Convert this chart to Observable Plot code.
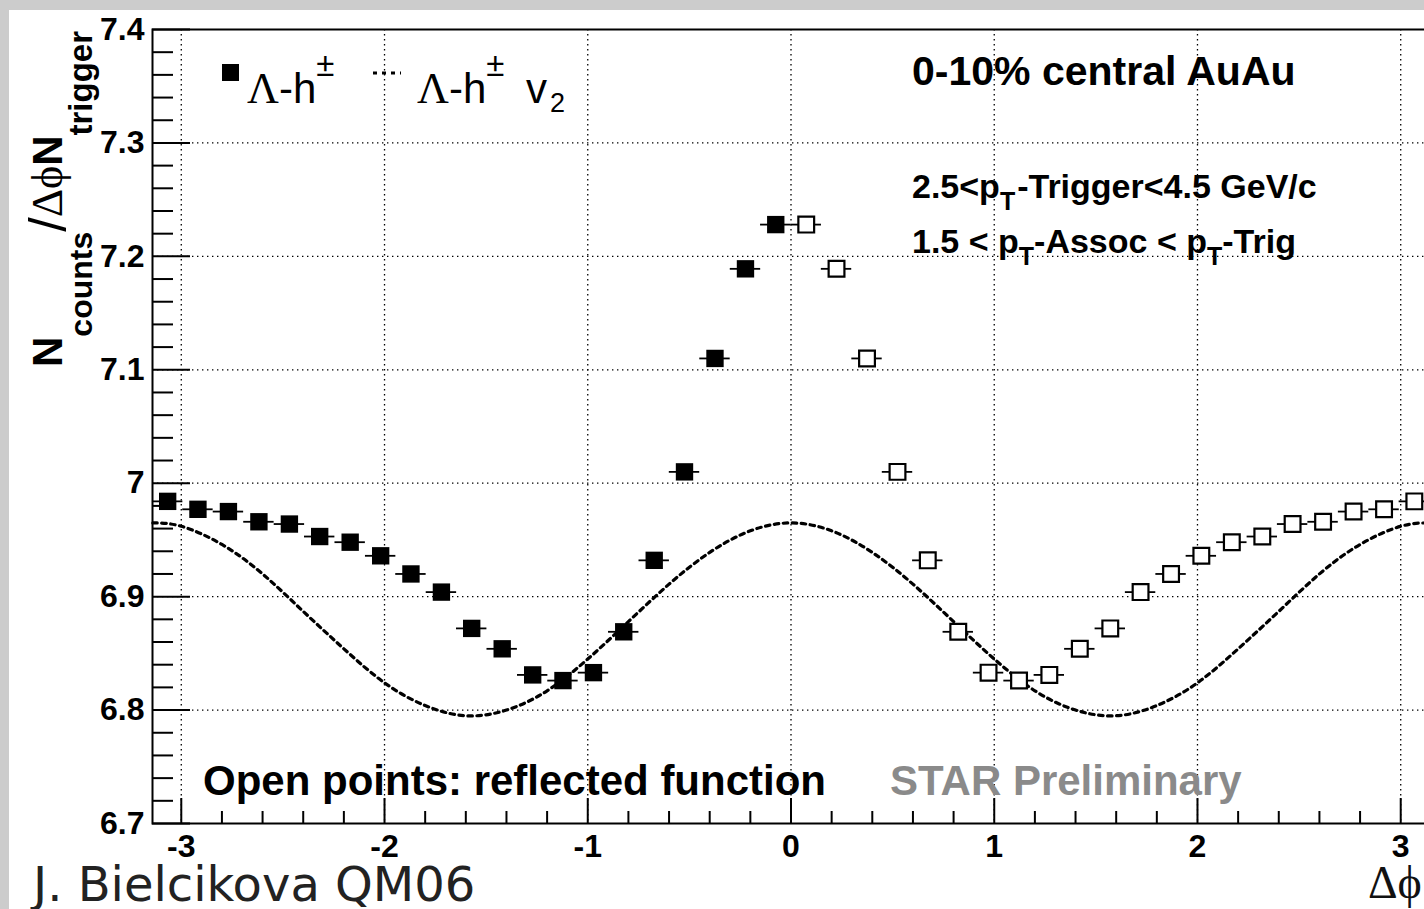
<!DOCTYPE html>
<html>
<head>
<meta charset="utf-8">
<script src="https://cdn.jsdelivr.net/npm/d3@7"></script>
<script src="https://cdn.jsdelivr.net/npm/@observablehq/plot@0.6"></script>
<style>
  html, body { margin: 0; padding: 0; overflow: hidden; width: 1424px; height: 909px; background: #cccccc; }
  #panel { position: absolute; left: 9px; top: 10px; right: 0; bottom: 0; background: #ffffff; }
  #chart { position: absolute; left: 0; top: 0; width: 1440px; height: 909px; }
  #chart svg { overflow: visible; max-width: none !important; }
</style>
</head>
<body>
<div id="panel"></div>
<div id="chart"></div>
<script>
// ---- data ----
const binHalfWidth = 0.0748;
const phiFilled = [-3.067, -2.918, -2.768, -2.618, -2.468, -2.319, -2.169, -2.019, -1.870, -1.720, -1.571,
                   -1.421, -1.271, -1.122, -0.972, -0.823, -0.673, -0.524, -0.374, -0.224, -0.075];
const valFilled = [6.984, 6.977, 6.975, 6.966, 6.964, 6.953, 6.948, 6.936, 6.920, 6.904, 6.872,
                   6.854, 6.831, 6.826, 6.833, 6.869, 6.932, 7.010, 7.110, 7.189, 7.228];
const phiOpen = [0.075, 0.224, 0.374, 0.524, 0.673, 0.823, 0.972, 1.122, 1.271, 1.421, 1.571,
                 1.720, 1.870, 2.019, 2.169, 2.319, 2.468, 2.618, 2.768, 2.918, 3.067];
const valOpen = [7.228, 7.189, 7.110, 7.010, 6.932, 6.869, 6.833, 6.826, 6.831, 6.854, 6.872,
                 6.904, 6.920, 6.936, 6.948, 6.953, 6.964, 6.966, 6.975, 6.977, 6.984];
const phiV2 = [-3.14, -3.0, -2.8, -2.6, -2.4, -2.2, -2.0, -1.8, -1.6, -1.4, -1.2, -1.0, -0.8, -0.6, -0.4, -0.2, 0,
               0.2, 0.4, 0.6, 0.8, 1.0, 1.2, 1.4, 1.6, 1.8, 2.0, 2.2, 2.4, 2.6, 2.8, 3.0, 3.14];
const valV2 = [6.965, 6.962, 6.946, 6.920, 6.887, 6.854, 6.824, 6.804, 6.795, 6.800, 6.817, 6.845, 6.878, 6.911, 6.939, 6.958, 6.965,
               6.958, 6.939, 6.911, 6.878, 6.845, 6.817, 6.800, 6.795, 6.804, 6.824, 6.854, 6.887, 6.920, 6.946, 6.962, 6.965];
const xTicks = [-3, -2, -1, 0, 1, 2, 3];
const xTickLabels = ["-3", "-2", "-1", "0", "1", "2", "3"];
const yTicks = [6.7, 6.8, 6.9, 7.0, 7.1, 7.2, 7.3, 7.4];
const yTickLabels = ["6.7", "6.8", "6.9", "7", "7.1", "7.2", "7.3", "7.4"];
const xGrid = [-3, -2, -1, 0, 1, 2, 3];
const yGrid = [6.8, 6.9, 7.0, 7.1, 7.2, 7.3];

// ---- tables built from the arrays ----
const filled = phiFilled.map((x, i) => ({x, y: valFilled[i]}));
const open = phiOpen.map((x, i) => ({x, y: valOpen[i]}));
const v2 = phiV2.map((x, i) => ({x, y: valV2[i]}));
const xMinor = d3.range(-30, 31, 2).map(d => d / 10).filter(d => !Number.isInteger(d));
const yMinor = d3.range(670, 741, 2).map(d => d / 100).filter(d => Math.round(d * 100) % 10 !== 0);

const W = 1440, H = 909, mL = 152, mR = 11, mT = 29, mB = 86;
const frameW = W - mL - mR, frameH = H - mT - mB;
const dotted = {stroke: "#000", strokeWidth: 1.3, strokeDasharray: "1.4,3.6"};

const chart = Plot.plot({
  width: W, height: H,
  marginLeft: mL, marginRight: mR, marginTop: mT, marginBottom: mB,
  x: {domain: [-Math.PI, Math.PI], axis: null},
  y: {domain: [6.7, 7.4], axis: null},
  style: {background: "transparent", fontFamily: "Liberation Sans, Arial, sans-serif", overflow: "visible", maxWidth: "none"},
  marks: [
    Plot.ruleX(xGrid, {x: d => d, ...dotted}),
    Plot.ruleY(yGrid, {y: d => d, ...dotted}),
    Plot.line(v2, {x: "x", y: "y", stroke: "#000", strokeWidth: 3.2, strokeDasharray: "4.5,4.5", curve: "natural"}),
    Plot.ruleY(filled, {y: "y", x1: d => d.x - binHalfWidth, x2: d => d.x + binHalfWidth, stroke: "#000", strokeWidth: 1.8}),
    Plot.ruleY(open, {y: "y", x1: d => d.x - binHalfWidth, x2: d => d.x + binHalfWidth, stroke: "#000", strokeWidth: 1.8}),
    Plot.dot(filled, {x: "x", y: "y", symbol: "square", r: 9.8, fill: "#000", stroke: "none"}),
    Plot.dot(open, {x: "x", y: "y", symbol: "square", r: 8.9, fill: "#fff", stroke: "#000", strokeWidth: 2.2}),
    Plot.frame({stroke: "#000", strokeWidth: 2}),
    Plot.tickX(xTicks, {x: d => d, insetTop: frameH - 25, stroke: "#000", strokeWidth: 2}),
    Plot.tickX(xMinor, {x: d => d, insetTop: frameH - 12, stroke: "#000", strokeWidth: 2}),
    Plot.tickY(yTicks, {y: d => d, insetRight: frameW - 38, stroke: "#000", strokeWidth: 2}),
    Plot.tickY(yMinor, {y: d => d, insetRight: frameW - 21, stroke: "#000", strokeWidth: 2}),
    Plot.text(xTicks, {x: d => d, text: (d, i) => xTickLabels[i], frameAnchor: "bottom", dy: 23, lineAnchor: "middle",
      fontSize: 32, fontWeight: "bold", fill: "#000"}),
    Plot.text(yTicks, {y: d => d, text: (d, i) => yTickLabels[i], frameAnchor: "left", dx: -8, textAnchor: "end",
      lineAnchor: "middle", fontSize: 32, fontWeight: "bold", fill: "#000"})
  ]
});
document.getElementById("chart").appendChild(chart);

// ---- rich text annotations (sub/superscripts) ----
const svg = d3.select(chart);
function rich(x, y, parts, rotate = 0) {
  const t = svg.append("text")
    .attr("transform", `translate(${x},${y}) rotate(${rotate})`)
    .attr("text-anchor", "start");
  let shift = 0;
  for (const p of parts) {
    const s = p.shift || 0;
    t.append("tspan")
      .attr("dy", s - shift)
      .attr("dx", p.dx || 0)
      .attr("font-size", p.size)
      .attr("font-weight", p.bold ? "bold" : "normal")
      .attr("font-family", p.family || "Liberation Sans, Arial, sans-serif")
      .attr("fill", p.fill || "#000")
      .text(p.t);
    shift = s;
  }
  return t;
}
const serif = "Liberation Serif, Times New Roman, serif";

// y axis title
rich(62, 367, [
  {t: "N", size: 42, bold: true},
  {t: "counts", size: 32, bold: true, shift: 30},
  {t: "/", size: 52, shift: 4},
  {t: "\u0394\u03D5", size: 44, family: serif},
  {t: "N", size: 42, bold: true},
  {t: "trigger", size: 33, bold: true, shift: 30}
], -90);

// x axis title
rich(1368, 898, [{t: "\u0394\u03D5", size: 46, family: serif, fill: "#111"}]);

// legend
svg.append("rect").attr("x", 222).attr("y", 64).attr("width", 17).attr("height", 17).attr("fill", "#000");
rich(247, 103, [
  {t: "\u039B", size: 44, family: serif},
  {t: "-h", size: 42},
  {t: "\u00B1", size: 33, shift: -27}
]);
svg.append("line").attr("x1", 373).attr("x2", 401).attr("y1", 73).attr("y2", 73)
  .attr("stroke", "#000").attr("stroke-width", 3).attr("stroke-dasharray", "4,5");
rich(417, 103, [
  {t: "\u039B", size: 44, family: serif},
  {t: "-h", size: 42},
  {t: "\u00B1", size: 33, shift: -27},
  {t: " v", size: 42, dx: 10},
  {t: "2", size: 27, shift: 9, dx: 3}
]);

// annotations
rich(912, 85, [{t: "0-10% central AuAu", size: 41, bold: true}]);
rich(912, 198, [
  {t: "2.5<p", size: 34, bold: true},
  {t: "T", size: 25, bold: true, shift: 12},
  {t: "-Trigger<4.5 GeV/c", size: 34, bold: true, dx: 2}
]);
rich(912, 253, [
  {t: "1.5 < p", size: 34, bold: true},
  {t: "T", size: 25, bold: true, shift: 12},
  {t: "-Assoc < p", size: 34, bold: true},
  {t: "T", size: 25, bold: true, shift: 12},
  {t: "-Trig", size: 34, bold: true}
]);
rich(203, 795, [{t: "Open points: reflected function", size: 42, bold: true}]);
rich(890, 795, [{t: "STAR Preliminary", size: 42, bold: true, fill: "#8a8a8a"}]);
rich(33, 901, [{t: "J. Bielcikova QM06", size: 48, family: "DejaVu Sans, sans-serif", fill: "#222"}]);
</script>
</body>
</html>
